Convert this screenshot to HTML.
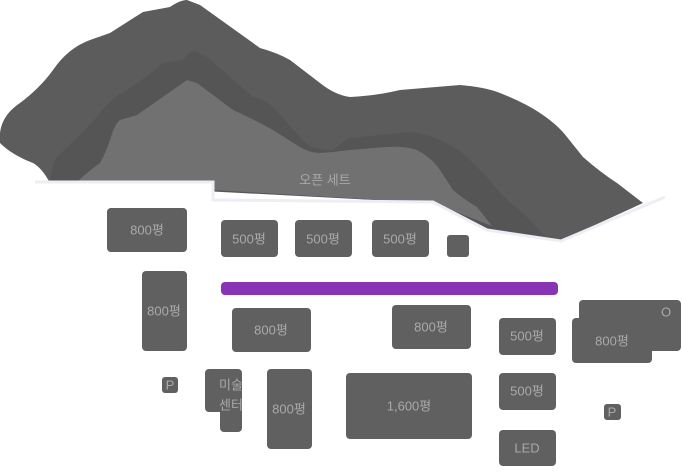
<!DOCTYPE html>
<html><head><meta charset="utf-8"><style>
html,body{margin:0;padding:0;background:#fff;}
svg{display:block}
text{font-family:"Liberation Sans","Noto Sans CJK KR",sans-serif;fill:#a9a9a9;text-anchor:middle;dominant-baseline:central;font-size:13px}
</style></head><body>
<svg width="682" height="475" viewBox="0 0 682 475" xmlns="http://www.w3.org/2000/svg">
<rect x="100" y="205" width="95" height="150" rx="6" fill="#f9f9fb"/>
<rect x="212" y="212" width="265" height="55" rx="6" fill="#f9f9fb"/>
<rect x="222" y="300" width="330" height="175" rx="6" fill="#f9f9fb"/>
<rect x="565" y="300" width="90" height="70" rx="6" fill="#f9f9fb"/>
<g fill="#eef0f5">
<rect x="152" y="260" width="50" height="5"/><rect x="187" y="260" width="5" height="95"/>
<rect x="383" y="300" width="5" height="60"/><rect x="383" y="356" width="95" height="5"/>
<rect x="500" y="306" width="55" height="6"/><rect x="500" y="360" width="55" height="6"/><rect x="500" y="418" width="55" height="6"/>
<rect x="575" y="377" width="88" height="6"/>
<rect x="592" y="395" width="28" height="4"/><rect x="592" y="395" width="4" height="35"/><rect x="592" y="426" width="28" height="4"/>
<rect x="165" y="369" width="25" height="4"/><rect x="186" y="369" width="4" height="25"/><rect x="155" y="400" width="35" height="4"/>
</g>
<g stroke-linejoin="round">
<path d="M0,143 L0,133 Q2,115 20,103 Q40,88 53,70 Q68,48 90,40 L110,33 L143,12 L170,7 Q180,0 187,0 L200,5 L260,48 Q278,53 290,60 L320,83 Q335,95 350,97 Q375,96 400,90 L460,85 Q485,87 500,93 Q525,103 540,113 Q558,125 567,137 L583,157 Q600,172 617,183 L643,203 L560,241 L487,231 L433,203 L50,183 Q42,168 33,163 Q12,155 0,143 Z" fill="#5c5c5c"/>
<path d="M50,182 Q52,165 57,157 Q80,135 97,117 Q110,98 127,90 Q150,75 163,63 L183,60 Q190,50 197,52 L207,57 L253,97 Q265,100 273,107 L300,137 Q306,145 313,147 Q325,151 333,150 Q345,140 350,138 Q380,135 410,132 Q428,134 440,140 Q455,147 467,157 L487,177 L500,193 L527,217 L545,236 L487,231 L433,203 Z" fill="#555555"/>
<path d="M77,182 Q90,170 100,163 Q106,152 110,140 Q114,125 120,120 L137,115 L187,80 L197,83 L233,110 Q255,120 273,130 L300,147 Q310,153 320,153 Q335,152 350,150 L387,147 Q405,146 417,150 Q432,158 440,170 L453,190 Q465,200 477,207 L492,226 L433,203 Z" fill="#717171"/>
</g>
<path d="M0,182 L213,182 L213,200 L433,202 L487,230 L561,241 L668,196 L682,196 L682,475 L0,475 Z" fill="#fff"/>
<path d="M35,182 L213,182 L213,200 L433,202 L487,230 L561,241 L665,197" fill="none" stroke="#eceef4" stroke-width="3"/>
<text x="325" y="180" font-size="12">오픈 세트</text>
<g fill="#606060">
<rect x="107" y="208" width="80" height="44" rx="4"/>
<rect x="221" y="220" width="57" height="37" rx="4"/>
<rect x="295" y="220" width="57" height="37" rx="4"/>
<rect x="372" y="220" width="57" height="37" rx="4"/>
<rect x="447" y="235" width="22" height="22" rx="3"/>
<rect x="142" y="271" width="45" height="80" rx="4"/>
<rect x="232" y="308" width="79" height="44" rx="4"/>
<rect x="392" y="305" width="79" height="44" rx="4"/>
<rect x="499" y="318" width="57" height="37" rx="4"/>
<rect x="499" y="373" width="57" height="37" rx="4"/>
<rect x="499" y="430" width="57" height="36" rx="4"/>
<rect x="579" y="300" width="102" height="51" rx="4"/>
<rect x="572" y="318" width="80" height="45" rx="4"/>
<rect x="162" y="377" width="16" height="16" rx="3"/>
<rect x="604" y="404" width="17" height="16" rx="3"/>
<rect x="205" y="369" width="37" height="43" rx="4"/>
<rect x="220" y="390" width="22" height="42" rx="4"/>
<rect x="267" y="369" width="45" height="80" rx="4"/>
<rect x="346" y="373" width="126" height="66" rx="4"/>
</g>
<rect x="221" y="282" width="337" height="13" rx="4" fill="#8834b4"/>
<text x="147" y="230">800평</text>
<text x="249" y="239">500평</text>
<text x="323" y="239">500평</text>
<text x="400" y="239">500평</text>
<text x="164" y="311">800평</text>
<text x="271" y="330">800평</text>
<text x="431" y="327">800평</text>
<text x="527" y="336">500평</text>
<text x="527" y="391">500평</text>
<text x="527" y="448" font-size="15">LED</text>
<text x="612" y="341">800평</text>
<text x="666" y="312" font-size="15">O</text>
<text x="170" y="385" font-size="11">P</text>
<text x="612" y="412" font-size="11">P</text>
<text x="231" y="385">미술</text>
<text x="231" y="405">센터</text>
<text x="289" y="409">800평</text>
<text x="409" y="406">1,600평</text>
</svg>
</body></html>
